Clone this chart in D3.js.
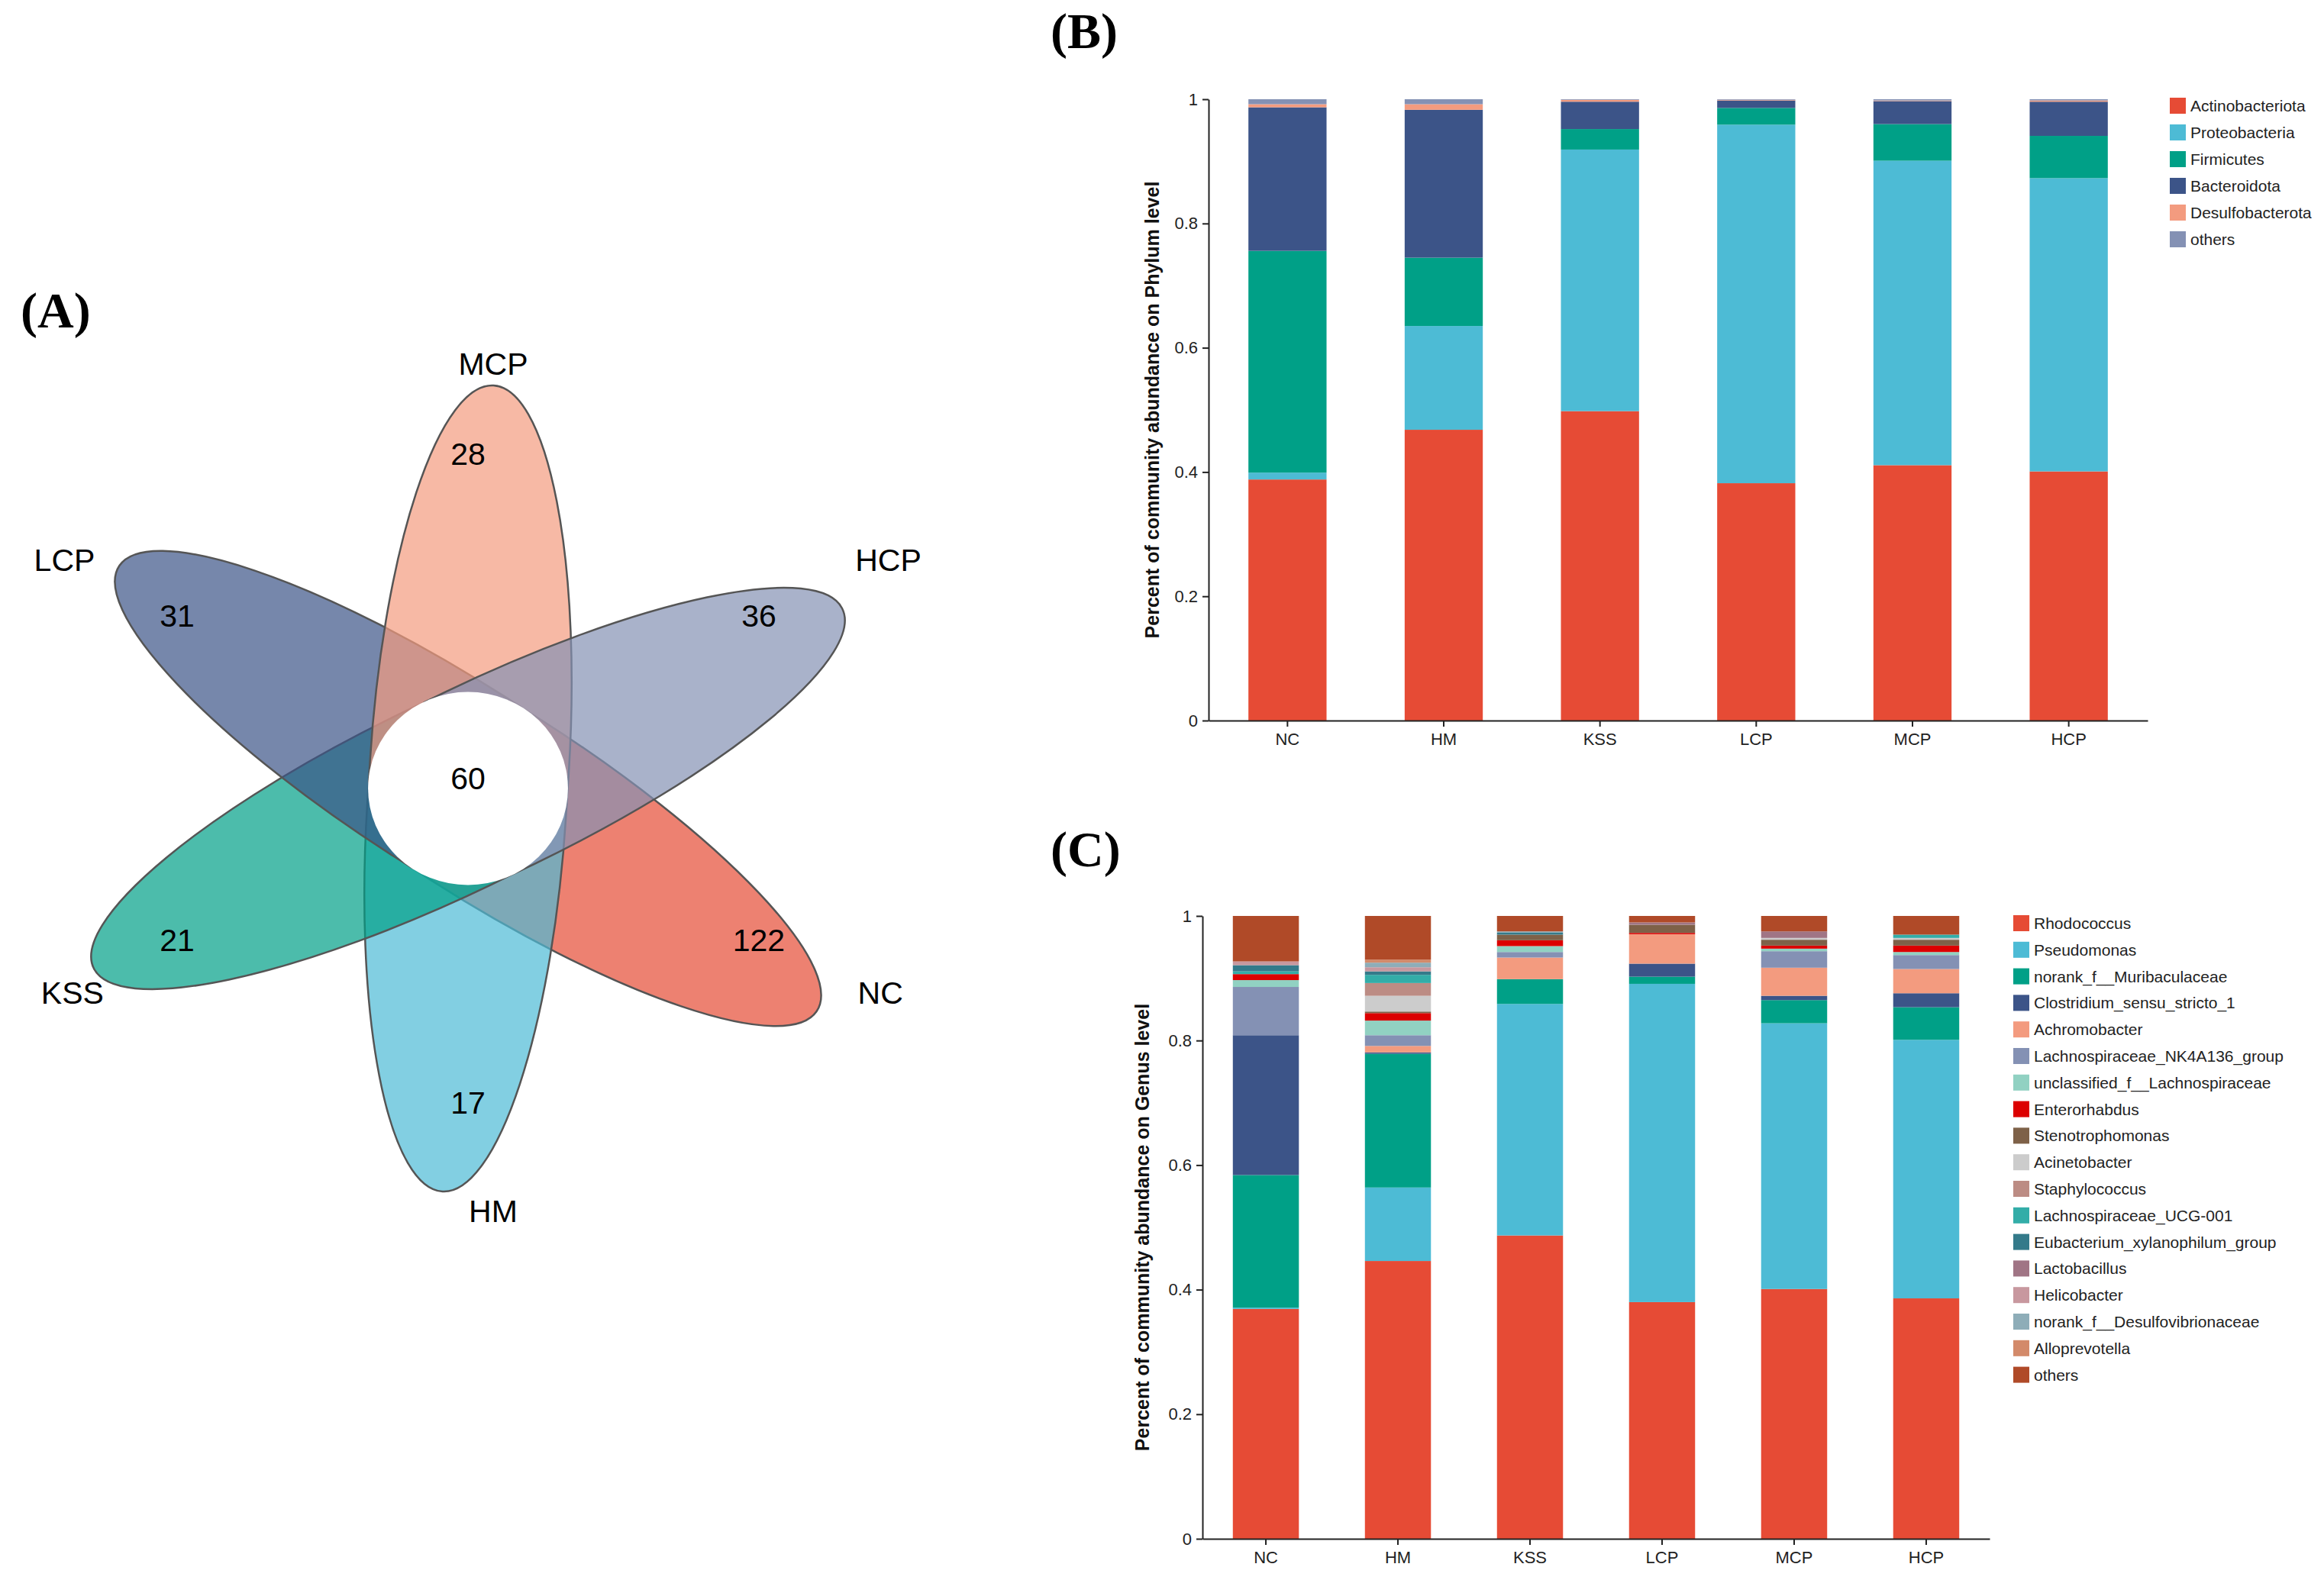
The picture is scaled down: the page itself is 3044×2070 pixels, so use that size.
<!DOCTYPE html>
<html lang="en">

<head>
    <meta charset="UTF-8">
    <title>Flower plot and community barplots</title>
    <script src="https://cdn.jsdelivr.net/npm/d3@7/dist/d3.min.js"></script>
    <style>
        * {
            box-sizing: border-box;
        }

        body {
            margin: 0;
            background: #ffffff;
        }

        text {
            font-family: "Liberation Sans", Arial, sans-serif;
        }
    </style>
</head>

<body>
    <svg id="svg1" width="3044" height="2070"></svg>
    <script>
        // ---------- data ----------
        const groups = ["NC", "HM", "KSS", "LCP", "MCP", "HCP"];
        const yTicks = [0, 0.2, 0.4, 0.6, 0.8, 1];

        const phylumNames = ["Actinobacteriota", "Proteobacteria", "Firmicutes", "Bacteroidota", "Desulfobacterota", "others"];
        const phylumColors = ["#E64B35", "#4DBBD5", "#00A087", "#3C5488", "#F39B7F", "#8491B4"];
        // one row per group, columns in phylumNames order
        const phylumValues = [
            [0.388, 0.011, 0.357, 0.231, 0.005, 0.008],
            [0.468, 0.167, 0.110, 0.238, 0.009, 0.008],
            [0.498, 0.421, 0.033, 0.044, 0.003, 0.001],
            [0.382, 0.577, 0.027, 0.012, 0.001, 0.001],
            [0.411, 0.490, 0.059, 0.037, 0.001, 0.002],
            [0.401, 0.472, 0.068, 0.055, 0.002, 0.002]
        ];

        const genusNames = ["Rhodococcus", "Pseudomonas", "norank_f__Muribaculaceae", "Clostridium_sensu_stricto_1",
            "Achromobacter", "Lachnospiraceae_NK4A136_group", "unclassified_f__Lachnospiraceae", "Enterorhabdus",
            "Stenotrophomonas", "Acinetobacter", "Staphylococcus", "Lachnospiraceae_UCG-001",
            "Eubacterium_xylanophilum_group", "Lactobacillus", "Helicobacter", "norank_f__Desulfovibrionaceae",
            "Alloprevotella", "others"];
        const genusColors = ["#E64B35", "#4DBBD5", "#00A087", "#3C5488", "#F39B7F", "#8491B4", "#91D1C2", "#DC0000",
            "#7E6148", "#CCCCCC", "#BC8C84", "#33ADA8", "#347A8A", "#A07585", "#C8989F", "#8EADB8", "#D38A6A", "#B04A28"];
        // one row per group, columns in genusNames order
        const genusValues = [
            [0.369, 0.002, 0.213, 0.2245, 0, 0.0775, 0.011, 0.0096, 0, 0, 0, 0.0044, 0.010, 0, 0.006, 0, 0, 0.073],
            [0.446, 0.118, 0.2147, 0.0023, 0.0103, 0.0172, 0.0235, 0.012, 0.0025, 0.0253, 0.0205, 0.0131, 0.0056, 0, 0.0066, 0.0074, 0.005, 0.070],
            [0.487, 0.3717, 0.0398, 0, 0.0347, 0.0089, 0.0095, 0.0094, 0.009, 0, 0, 0, 0.0031, 0, 0, 0.0021, 0, 0.0248],
            [0.380, 0.511, 0.0115, 0.0209, 0.0473, 0, 0, 0.0021, 0.0131, 0, 0, 0, 0, 0.0037, 0, 0, 0, 0.0104],
            [0.401, 0.4267, 0.0372, 0.0069, 0.0451, 0.0265, 0.0041, 0.0049, 0.0094, 0.0029, 0, 0, 0, 0.0105, 0, 0, 0, 0.0248],
            [0.386, 0.4151, 0.0524, 0.0224, 0.0389, 0.0224, 0.0049, 0.0103, 0.0094, 0.0029, 0, 0.0053, 0, 0, 0, 0, 0, 0.030]
        ];

        // flower plot, in drawing order (clockwise starting at lower right)
        const vennSets = ["NC", "HM", "KSS", "LCP", "MCP", "HCP"];
        const vennCounts = [122, 17, 21, 31, 28, 36];
        const vennCore = 60;
        const vennColors = ["#E64B35", "#4DBBD5", "#00A087", "#3C5488", "#F39B7F", "#8491B4"];

        // ---------- setup ----------
        let svgElement = d3.select("#svg1");
        svgElement.append("rect").attr("width", 3044).attr("height", 2070).attr("fill", "#ffffff");

        function panelLabel(txt, x, y) {
            svgElement.append("text")
                .attr("x", x)
                .attr("y", y)
                .style("font-family", "'Liberation Serif', 'Times New Roman', serif")
                .attr("font-weight", "bold")
                .attr("font-size", 66)
                .attr("fill", "#000")
                .text(txt);
        }

        // ---------- (A) flower plot ----------
        panelLabel("(A)", 27, 429);

        const flowerX = 613, flowerY = 1033;
        const stretchX = 1.035; // plot region is a bit wider than tall
        const petalTip = 529, petalA = 500, petalB = 126;
        const petalTilt = -3.5;
        const circleR = 126.5;

        let defs = svgElement.append("defs");
        defs.append("clipPath")
            .attr("id", "petalClip")
            .attr("clipPathUnits", "userSpaceOnUse")
            .append("rect")
            .attr("x", 0)
            .attr("y", -300)
            .attr("width", 800)
            .attr("height", 600);

        let flower = svgElement.append("g")
            .attr("transform", "translate(" + flowerX + "," + flowerY + ") scale(" + stretchX + ",1)");

        vennSets.forEach((name, i) => {
            let angle = -30 - 60 * i;
            flower.append("g")
                .attr("transform", "rotate(" + (-(angle + petalTilt)) + ")")
                .append("ellipse")
                .attr("cx", petalTip - petalA)
                .attr("cy", 0)
                .attr("rx", petalA)
                .attr("ry", petalB)
                .attr("fill", vennColors[i])
                .attr("fill-opacity", 0.7)
                .attr("stroke", "#555555")
                .attr("stroke-width", 2.5)
                .attr("vector-effect", "non-scaling-stroke")
                .attr("clip-path", "url(#petalClip)");
        });

        flower.append("circle")
            .attr("cx", 0)
            .attr("cy", 0)
            .attr("r", circleR)
            .attr("fill", "#ffffff");

        let flowerText = svgElement.append("g");

        vennSets.forEach((name, i) => {
            let rad = (-30 - 60 * i) * Math.PI / 180;
            let c = Math.cos(rad), s = Math.sin(rad);
            flowerText.append("text")
                .attr("x", flowerX + 425 * stretchX * c)
                .attr("y", flowerY - 425 * s - 14)
                .attr("dy", "0.36em")
                .attr("text-anchor", "middle")
                .attr("font-size", 41)
                .attr("fill", "#000")
                .text(vennCounts[i]);

            // set names sit a little outside the petal tips
            flowerText.append("text")
                .attr("x", flowerX + 617 * c - 11 + 44 * Math.abs(s) + 12 * s * c)
                .attr("y", flowerY - 555 * s - 14 * s * Math.abs(c) - 2 - 16 * Math.abs(c))
                .attr("dy", "0.36em")
                .attr("text-anchor", "middle")
                .attr("font-size", 41)
                .attr("fill", "#000")
                .text(name);
        });

        flowerText.append("text")
            .attr("x", flowerX)
            .attr("y", flowerY - 14)
            .attr("dy", "0.36em")
            .attr("text-anchor", "middle")
            .attr("font-size", 41)
            .attr("fill", "#000")
            .text(vennCore);

        // ---------- stacked bar helper ----------
        function stackedBars(opt) {
            let rows = groups.map((g, gi) => {
                let row = { group: g };
                opt.names.forEach((n, ni) => row[n] = opt.values[gi][ni]);
                return row;
            });
            let series = d3.stack().keys(opt.names)(rows);

            let x = d3.scaleBand()
                .domain(groups)
                .range([opt.left, opt.right])
                .paddingInner(0.5)
                .paddingOuter(opt.outer);
            let y = d3.scaleLinear().domain([0, 1]).range([opt.bottom, opt.top]);

            let chart = svgElement.append("g");

            chart.selectAll("g.layer")
                .data(series)
                .join("g")
                .attr("class", "layer")
                .attr("fill", (d, i) => opt.colors[i])
                .selectAll("rect")
                .data(d => d)
                .join("rect")
                .attr("x", d => x(d.data.group))
                .attr("width", x.bandwidth())
                .attr("y", d => y(d[1]))
                .attr("height", d => Math.max(0, y(d[0]) - y(d[1])));

            let yAxis = chart.append("g")
                .attr("transform", "translate(" + opt.left + ",0)")
                .call(d3.axisLeft(y).tickValues(yTicks).tickFormat(d => String(d)).tickSize(8).tickSizeOuter(0).tickPadding(6));

            let xAxis = chart.append("g")
                .attr("transform", "translate(0," + opt.bottom + ")")
                .call(d3.axisBottom(x).tickSize(8).tickSizeOuter(0).tickPadding(8));

            [yAxis, xAxis].forEach(ax => {
                ax.select(".domain").attr("stroke", "#222").attr("stroke-width", 2);
                ax.selectAll(".tick line").attr("stroke", "#222").attr("stroke-width", 2);
                ax.selectAll(".tick text")
                    .attr("font-size", 22)
                    .attr("font-family", "'Liberation Sans', Arial, sans-serif")
                    .attr("fill", "#222");
            });

            chart.append("text")
                .attr("transform", "translate(" + opt.titleX + "," + ((opt.top + opt.bottom) / 2) + ") rotate(-90)")
                .attr("dy", "0.36em")
                .attr("text-anchor", "middle")
                .attr("font-size", 25)
                .attr("font-weight", "bold")
                .attr("fill", "#111")
                .text(opt.title);

            let legend = chart.append("g")
                .attr("transform", "translate(" + opt.legendX + "," + opt.legendY + ")");

            let items = legend.selectAll("g")
                .data(opt.names)
                .join("g")
                .attr("transform", (d, i) => "translate(0," + (i * opt.legendStep) + ")");

            items.append("rect")
                .attr("width", 21)
                .attr("height", 21)
                .attr("fill", (d, i) => opt.colors[i]);

            items.append("text")
                .attr("x", 27)
                .attr("y", 10.5)
                .attr("dy", "0.36em")
                .attr("font-size", 21)
                .attr("fill", "#222")
                .text(d => d);
        }

        // ---------- (B) phylum ----------
        panelLabel("(B)", 1376, 63);

        stackedBars({
            names: phylumNames,
            colors: phylumColors,
            values: phylumValues,
            left: 1583,
            right: 2813,
            outer: 0.255,
            top: 130,
            bottom: 944,
            titleX: 1509,
            title: "Percent of community abundance on Phylum level",
            legendX: 2842,
            legendY: 128,
            legendStep: 35
        });

        // ---------- (C) genus ----------
        panelLabel("(C)", 1376, 1135);

        stackedBars({
            names: genusNames,
            colors: genusColors,
            values: genusValues,
            left: 1575,
            right: 2606,
            outer: 0.23,
            top: 1200,
            bottom: 2016,
            titleX: 1496,
            title: "Percent of community abundance on Genus level",
            legendX: 2637,
            legendY: 1199,
            legendStep: 34.8
        });
    </script>
</body>

</html>
